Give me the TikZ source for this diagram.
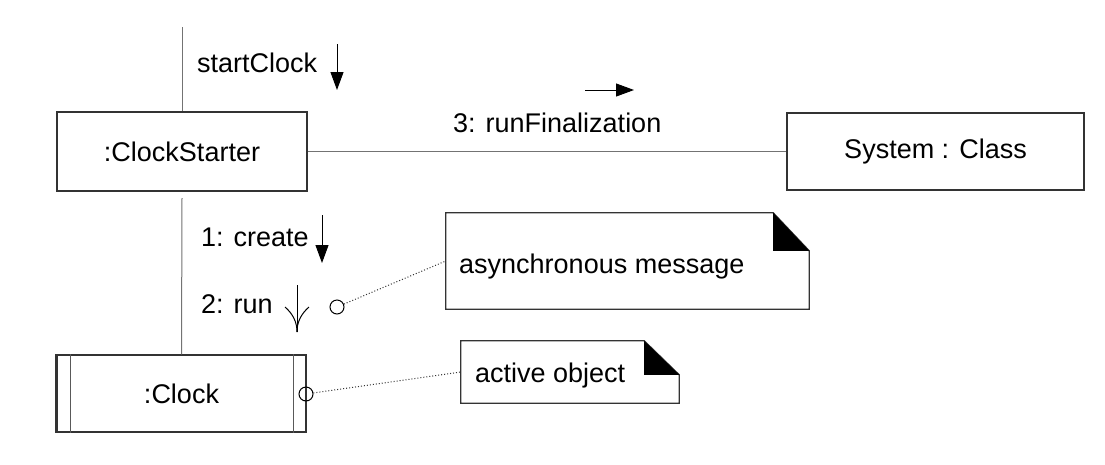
\documentclass[tikz,border=0pt]{standalone}
\usepackage{fontspec}
\setmainfont{Liberation Sans}
\usetikzlibrary{arrows.meta}
\begin{document}
\begin{tikzpicture}[x=1pt,y=-1pt,
  txt/.style={font=\fontsize{27}{31}\selectfont, text=black},
  box/.style={draw=black!80, line width=1.3pt, inner sep=0pt, txt},
  link/.style={draw=black!55, line width=1pt},
  lbl/.style={txt, inner sep=0pt, anchor=base west},
  msg/.style={draw=black, line width=1pt, -{Triangle[length=18pt,width=13pt]}},
  stick/.style={draw=black, line width=1pt},
  notedraw/.style={draw=black!80, line width=1.3pt, fill=white},
  fold/.style={fill=black},
  ring/.style={circle, draw=black, line width=1pt, minimum size=14pt, inner sep=0pt},
  dots/.style={draw=black!80, line width=1pt, dotted},
  notearea/.style={inner sep=0pt, draw=none}
]
\useasboundingbox[fill=white] (0,0) rectangle (1105,464);

% object boxes
\node[box, minimum width=250pt, minimum height=79pt] (cs) at (182,151.5) {:ClockStarter};
\node[box, minimum width=297pt, minimum height=77pt] (sys) at (935.5,151.5) {System : Class};
\node[box, minimum width=249pt, minimum height=77pt] (clk) at (181.5,393.5) {:Clock};
\draw[black!80, line width=2pt] (clk.north west) -- (clk.south west);
\draw[black!65, line width=1pt] ([xshift=14pt]clk.north west) -- ([xshift=14pt]clk.south west);
\draw[black!65, line width=1pt] ([xshift=-13pt]clk.north east) -- ([xshift=-13pt]clk.south east);

% links
\coordinate (topend) at (182,27);
\coordinate (midstart) at (182,198);
\draw[link] (topend) -- (cs.north);
\draw[link] (cs.east) -- (sys.west);
\draw[link] (midstart) -- (clk.north);

% message labels
\node[lbl] (l0) at (197,72) {startClock};
\node[lbl] (l3) at (453,132) {3: runFinalization};
\node[lbl] (l1) at (201,246) {1: create};
\node[lbl] (l2) at (201,313) {2: run};

% message arrows
\coordinate (a0s) at (337,44);  \coordinate (a0e) at (337,90);
\coordinate (a3s) at (585,90);  \coordinate (a3e) at (634,90);
\coordinate (a1s) at (322,215); \coordinate (a1e) at (322,263);
\draw[msg] (a0s) -- (a0e);
\draw[msg] (a3s) -- (a3e);
\draw[msg] (a1s) -- (a1e);
% asynchronous (stick) arrow
\coordinate (a2s) at (297,285); \coordinate (a2e) at (297,332);
\coordinate (a2l) at (285,307); \coordinate (a2r) at (309,307);
\draw[stick] (a2s) -- (a2e);
\draw[stick] (a2l) .. controls (293,314) and (297,322) .. (a2e);
\draw[stick] (a2r) .. controls (301,314) and (297,322) .. (a2e);

% notes
\node[notearea, minimum width=363pt, minimum height=96pt] (n1) at (627.5,261) {};
\draw[notedraw] (n1.north west) -- ([xshift=-36pt]n1.north east) -- ([yshift=-38pt]n1.north east) -- (n1.south east) -- (n1.south west) -- cycle;
\fill[fold] ([xshift=-36pt]n1.north east) -- ([xshift=-36pt,yshift=-38pt]n1.north east) -- ([yshift=-38pt]n1.north east) -- cycle;
\node[lbl] (t1) at (459,273) {asynchronous message};

\node[notearea, minimum width=218pt, minimum height=62pt] (n2) at (570,372) {};
\draw[notedraw] (n2.north west) -- ([xshift=-35pt]n2.north east) -- ([yshift=-34pt]n2.north east) -- (n2.south east) -- (n2.south west) -- cycle;
\fill[fold] ([xshift=-35pt]n2.north east) -- ([xshift=-35pt,yshift=-34pt]n2.north east) -- ([yshift=-34pt]n2.north east) -- cycle;
\node[lbl] (t2) at (475,382) {active object};

% attachment rings and dotted anchors
\node[ring, fill=white] (c1) at (337,307) {};
\node[ring] (c2) at (306,394) {};
\draw[dots] (c1) -- (n1.west);
\draw[dots] (c2) -- (n2.west);
\end{tikzpicture}
\end{document}
